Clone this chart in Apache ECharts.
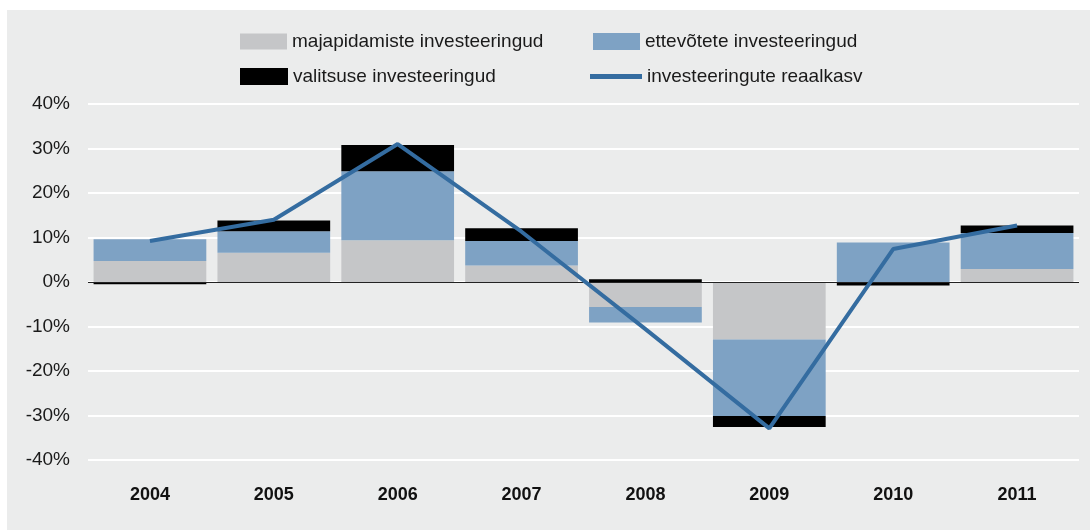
<!DOCTYPE html>
<html>
<head>
<meta charset="utf-8">
<script src="https://cdn.jsdelivr.net/npm/echarts@6/dist/echarts.min.js"></script>
<style>
html,body{margin:0;padding:0;background:#fff;}
#wrap{position:relative;width:1090px;height:530px;}
#panel{position:absolute;left:7px;top:10px;right:0;bottom:0;background:#ebecec;}
#chart{position:absolute;left:0;top:0;width:1090px;height:530px;}
</style>
</head>
<body>
<div id="wrap"><div id="panel"></div><div id="chart"></div></div>
<script>
const years = ['2004','2005','2006','2007','2008','2009','2010','2011'];
const households = [4.7, 6.6, 9.4, 3.7, -5.6, -12.9, 0, 2.9];
const business = [4.9, 4.8, 15.5, 5.5, -3.5, -17.2, 8.9, 8.1];
const government = [-0.5, 2.4, 5.9, 2.9, 0.6, -2.5, -0.8, 1.7];
const realGrowth = [9.2, 14.0, 31.0, 11.3, -10.6, -32.9, 7.4, 12.7];

const names = ['majapidamiste investeeringud','ettevõtete investeeringud','valitsuse investeeringud','investeeringute reaalkasv'];
const font = 'Liberation Sans, Arial, Helvetica, sans-serif';

const chart = echarts.init(document.getElementById('chart'), null, {renderer:'canvas'});
const legendText = {fontFamily: font, fontSize: 19, color: '#1a1a1a', lineHeight: 20};
function leg(name, left, top, w, h, icon) {
  return {left: left, top: top, padding: 0, itemWidth: w, itemHeight: h, itemGap: 0,
    textStyle: legendText, data: [{name: name, icon: icon || 'rect'}]};
}
chart.setOption({
  backgroundColor: 'transparent',
  animation: false,
  legend: [
    leg(names[0], 240, 31.5, 47, 16),
    leg(names[2], 240, 66.5, 48, 17),
    leg(names[1], 593, 31.5, 47, 17),
    leg(names[3], 590, 66.5, 52, 17, 'path://M0,0L52,0L52,5L0,5Z')
  ],
  grid: {left: 88, right: 11, top: 104, bottom: 70, containLabel: false},
  xAxis: {
    type: 'category', data: years,
    axisLine: {show: false, onZero: false}, axisTick: {show: false},
    position: 'bottom',
    axisLabel: {fontFamily: font, fontSize: 18, fontWeight: 'bold', color: '#111', margin: 26}
  },
  yAxis: {
    type: 'value', min: -40, max: 40, interval: 10,
    axisLine: {show: false}, axisTick: {show: false},
    splitLine: {lineStyle: {color: '#ffffff', width: 2}},
    axisLabel: {formatter: '{value}%', fontFamily: font, fontSize: 19, color: '#1a1a1a', margin: 18}
  },
  series: [
    {name: names[0], type: 'bar', stack: 'inv', data: households, barWidth: '91%',
     itemStyle: {color: '#c5c6c8'},
     markLine: {silent: true, symbol: 'none', label: {show: false}, z: 5,
       lineStyle: {color: '#222', width: 1, type: 'solid'}, data: [{yAxis: 0}]}},
    {name: names[1], type: 'bar', stack: 'inv', data: business, itemStyle: {color: '#7ea2c4'}},
    {name: names[2], type: 'bar', stack: 'inv', data: government, itemStyle: {color: '#000000'}},
    {name: names[3], type: 'line', data: realGrowth, symbol: 'none', z: 10,
     lineStyle: {color: '#346ca0', width: 4}, itemStyle: {color: '#346ca0'}}
  ]
});
</script>
</body>
</html>
